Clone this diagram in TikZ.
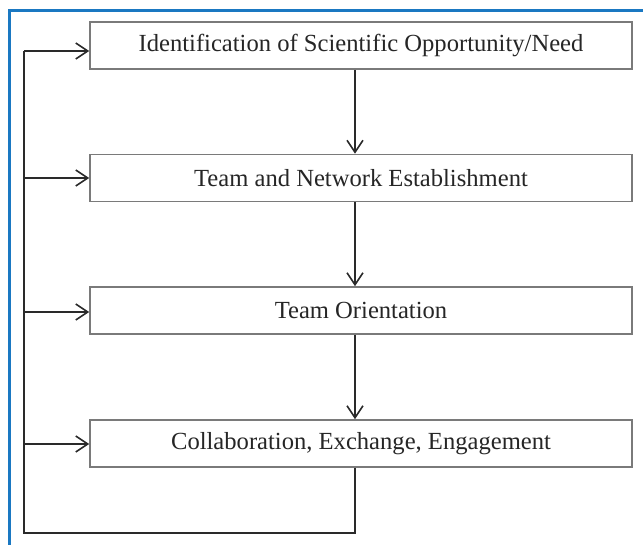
\documentclass[tikz,border=0pt]{standalone}
\usepackage{fontspec}
\setmainfont{Liberation Serif}
\usetikzlibrary{arrows.meta}
\definecolor{frameblue}{HTML}{1A78C2}
\definecolor{boxgray}{HTML}{7A7A7A}
\definecolor{linedark}{HTML}{2A2A2A}
\begin{document}
\begin{tikzpicture}[x=1pt,y=-1pt,
  stepbox/.style={draw=boxgray,line width=1.6pt,fill=white,minimum width=542pt,minimum height=47pt,inner sep=0pt,font=\fontsize{24.6}{29}\selectfont,text=black!85},
  conn/.style={draw=linedark,line width=1.6pt},
  arr/.style={conn,-{Straight Barb[length=12pt,width=16pt,line width=1.6pt]}}]
\useasboundingbox (0,0) rectangle (643,544);
\fill[white] (0,0) rectangle (643,544);
\draw[frameblue,line width=3pt] (9.5,560) -- (9.5,10) -- (660,10);
\node[stepbox] (b1) at (361,45.5) {Identification of Scientific Opportunity/Need};
\node[stepbox] (b2) at (361,178) {Team and Network Establishment};
\node[stepbox] (b3) at (361,310.5) {Team Orientation};
\node[stepbox] (b4) at (361,443.5) {Collaboration, Exchange, Engagement};
\coordinate (c1) at (355,0);
\draw[arr] (b1.south -| c1) -- (b2.north -| c1);
\draw[arr] (b2.south -| c1) -- (b3.north -| c1);
\draw[arr] (b3.south -| c1) -- (b4.north -| c1);
\coordinate (bl) at (24,533);
\coordinate (br) at (355,533);
\coordinate (tl) at (24,51);
\draw[conn] (b4.south -| br) -- (br) -- (bl) -- (tl);
\draw[arr] (tl) -- (b1.west |- tl);
\draw[arr] (24,178) coordinate (l2) -- (b2.west |- l2);
\draw[arr] (24,312) coordinate (l3) -- (b3.west |- l3);
\draw[arr] (24,444) coordinate (l4) -- (b4.west |- l4);
\end{tikzpicture}
\end{document}
